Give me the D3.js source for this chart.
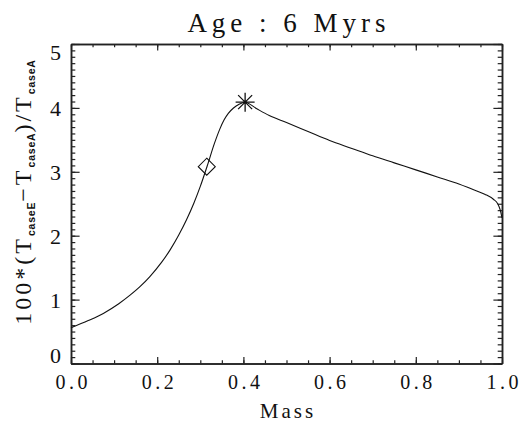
<!DOCTYPE html>
<html><head><meta charset="utf-8">
<script src="https://cdn.jsdelivr.net/npm/d3@7"></script>
<style>body{margin:0;background:#fff}</style>
</head><body>
<svg id="c" width="522" height="428"></svg>
<script>
// ---- data ----
const massValues = [0, 0.04, 0.075, 0.11, 0.137, 0.16, 0.183, 0.21, 0.23, 0.25, 0.268, 0.285, 0.3, 0.316, 0.333, 0.345, 0.355, 0.365, 0.377, 0.39, 0.404, 0.43, 0.46, 0.5, 0.55, 0.6, 0.65, 0.7, 0.75, 0.8, 0.85, 0.9, 0.93, 0.96, 0.98, 0.99, 0.996, 1.0];
const tempDiff   = [0.56, 0.672, 0.784, 0.931, 1.069, 1.202, 1.361, 1.582, 1.778, 2.010, 2.249, 2.508, 2.771, 3.091, 3.448, 3.664, 3.809, 3.914, 3.998, 4.057, 4.089, 3.99, 3.88, 3.77, 3.63, 3.49, 3.37, 3.25, 3.14, 3.03, 2.92, 2.81, 2.73, 2.65, 2.57, 2.50, 2.40, 2.28];
const diamondPoint = [0.315, 3.08];
const starPoint = [0.404, 4.09];
const xTickValues = [0, 0.2, 0.4, 0.6, 0.8, 1.0];
const xTickLabels = ["0.0", "0.2", "0.4", "0.6", "0.8", "1.0"];
const yTickValues = [0, 1, 2, 3, 4, 5];
const yTickLabels = ["0", "1", "2", "3", "4", "5"];
const titleText = "Age : 6 Myrs";
const xLabelText = "Mass";

// ---- layout ----
const L = 71, R = 502, T = 44, B = 363.5;
const svg = d3.select("#c");
const x = d3.scaleLinear().domain([0, 1]).range([L, R]);
const y = d3.scaleLinear().domain([0, 5]).range([B, T]);
const serif = "'Liberation Serif', 'DejaVu Serif', 'Times New Roman', serif";
const axisColor = "#222";

const xMinor = d3.range(0, 1.0001, 0.05).map(v => +v.toFixed(2));
const yMinor = d3.range(0, 5.0001, 0.1).map(v => +v.toFixed(1));

function styleAxis(g) {
  g.select(".domain").attr("stroke", axisColor).attr("stroke-width", 1.5);
  g.selectAll(".tick line").attr("stroke", axisColor).attr("stroke-width", 1.2);
}

// minor ticks
svg.append("g").attr("transform", `translate(0,${B})`)
  .call(d3.axisBottom(x).tickValues(xMinor).tickSizeInner(-3.2).tickSizeOuter(0).tickFormat(""))
  .call(styleAxis);
svg.append("g").attr("transform", `translate(0,${T})`)
  .call(d3.axisTop(x).tickValues(xMinor).tickSizeInner(-3.2).tickSizeOuter(0).tickFormat(""))
  .call(styleAxis);
svg.append("g").attr("transform", `translate(${L},0)`)
  .call(d3.axisLeft(y).tickValues(yMinor).tickSizeInner(-4.3).tickSizeOuter(0).tickFormat(""))
  .call(styleAxis);
svg.append("g").attr("transform", `translate(${R},0)`)
  .call(d3.axisRight(y).tickValues(yMinor).tickSizeInner(-4.3).tickSizeOuter(0).tickFormat(""))
  .call(styleAxis);

// major ticks
const xb = svg.append("g").attr("transform", `translate(0,${B})`)
  .call(d3.axisBottom(x).tickValues(xTickValues).tickSizeInner(-6.4).tickSizeOuter(0)
    .tickPadding(25).tickFormat((d, i) => xTickLabels[i]))
  .call(styleAxis);
xb.selectAll("text").attr("font-family", serif).attr("font-size", 20).attr("fill", "#111")
  .attr("letter-spacing", 3.5).attr("dy", "0").attr("dx", 1.75);
svg.append("g").attr("transform", `translate(0,${T})`)
  .call(d3.axisTop(x).tickValues(xTickValues).tickSizeInner(-6.4).tickSizeOuter(0).tickFormat(""))
  .call(styleAxis);
const yl = svg.append("g").attr("transform", `translate(${L},0)`)
  .call(d3.axisLeft(y).tickValues(yTickValues).tickSizeInner(-8.6).tickSizeOuter(0)
    .tickPadding(10).tickFormat((d, i) => yTickLabels[i]))
  .call(styleAxis);
yl.selectAll("text").attr("font-family", serif).attr("font-size", 22).attr("fill", "#111")
  .attr("dy", (d) => d === 0 ? "-0.05em" : d === 5 ? "0.7em" : "0.35em");
svg.append("g").attr("transform", `translate(${R},0)`)
  .call(d3.axisRight(y).tickValues(yTickValues).tickSizeInner(-8.6).tickSizeOuter(0).tickFormat(""))
  .call(styleAxis);

// curve
const pts = massValues.map((m, i) => [m, tempDiff[i]]);
svg.append("path").datum(pts)
  .attr("fill", "none").attr("stroke", "#111").attr("stroke-width", 1.1)
  .attr("d", d3.line().x(d => x(d[0])).y(d => y(d[1])).curve(d3.curveMonotoneX));

// diamond marker
const dx0 = x(diamondPoint[0]), dy0 = y(diamondPoint[1]), ds = 8.5;
svg.append("path")
  .attr("d", `M${dx0},${dy0 - ds}L${dx0 + ds},${dy0}L${dx0},${dy0 + ds}L${dx0 - ds},${dy0}Z`)
  .attr("fill", "none").attr("stroke", "#111").attr("stroke-width", 1.1);

// asterisk marker
const sx = x(starPoint[0]), sy = y(starPoint[1]), ss = 9.5, sd = 7;
svg.append("path")
  .attr("d", `M${sx - ss},${sy}L${sx + ss},${sy}M${sx},${sy - ss}L${sx},${sy + ss}` +
    `M${sx - sd},${sy - sd}L${sx + sd},${sy + sd}M${sx - sd},${sy + sd}L${sx + sd},${sy - sd}`)
  .attr("stroke", "#111").attr("stroke-width", 1.3).attr("fill", "none");

// title
svg.append("text").attr("x", (L + R) / 2 + 2.5).attr("y", 32).attr("text-anchor", "middle")
  .attr("font-family", serif).attr("font-size", 27).attr("letter-spacing", 5).attr("fill", "#111")
  .text(titleText);

// x label
svg.append("text").attr("x", (L + R) / 2 + 1.5).attr("y", 418).attr("text-anchor", "middle")
  .attr("font-family", serif).attr("font-size", 21).attr("letter-spacing", 3).attr("fill", "#111")
  .text(xLabelText);

// y label
const ylab = svg.append("text")
  .attr("transform", "translate(31,192) rotate(-90)")
  .attr("text-anchor", "middle").attr("font-family", serif).attr("font-size", 24).attr("fill", "#111")
  .attr("letter-spacing", 3);
const sub = (t, s) => t.append("tspan").attr("font-family", "'Liberation Sans', Arial, sans-serif")
  .attr("font-weight", "bold").attr("font-size", 10.5).attr("dy", 4).attr("letter-spacing", 0.8).text(s);
ylab.append("tspan").text("100*(T");
sub(ylab, "caseE");
ylab.append("tspan").attr("dy", -4).text("\u2212T");
sub(ylab, "caseA");
ylab.append("tspan").attr("dy", -4).text(")/T");
sub(ylab, "caseA");
</script>
</body></html>
